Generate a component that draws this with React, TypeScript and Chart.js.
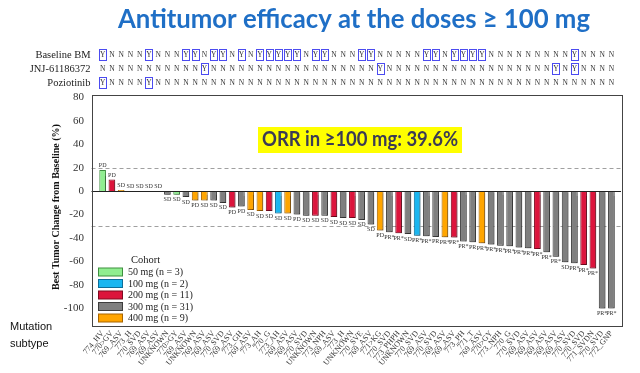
import React, { useEffect, useRef } from 'react';
import { Chart, registerables } from 'chart.js';

Chart.register(...registerables);

const subtypes = ['774_HV','770>GV','769_ASV','773_H','770_SVD','769_ASV','769_ASV','UNKNOWN','770>GY','769_ASV','UNKNOWN','769_ASV','769_ASV','770_SVD','769_ASV','773_GH','769_ASV','773_AH','770_G','773_AH','769_ASV','769_ASV','770_SVD','UNKNOWN','773_NPH','769_ASV','773_H','UNKNOWN','770_SVE','769_ASV','771>KG','770_SVD','773_PHPH','UNKNOWN','770_SVD','769_ASV','770_SVD','769_ASV','769_ASV','773_PH','771_T','769_ASV','770>GY','773_NPH','770_G','770_SVD','769_ASV','769_ASV','769_ASV','769_ASV','769_ASV','770_SVD','770_SVD','771_SVDN','770_SVD','772_GNP'];

const changes = [18, 10, 1, 0, 0, 0, 0, -3, -3, -5, -8, -8, -8, -10, -14, -13, -16, -17, -17, -19, -19, -20, -21, -21, -21, -22, -23, -23, -24.5, -28.5, -33.5, -35, -36, -36.5, -38, -38.5, -39, -39.3, -39.5, -43, -43.6, -44.5, -45.5, -46.5, -47, -48, -48.7, -49.3, -52, -56, -60.7, -61.5, -63, -66, -100, -100];

const doses = [50, 200, 400, 50, 300, 300, 300, 300, 50, 300, 400, 400, 300, 300, 200, 300, 400, 400, 200, 100, 400, 300, 300, 200, 300, 200, 300, 200, 300, 300, 400, 300, 200, 300, 100, 300, 300, 400, 200, 300, 300, 400, 300, 300, 300, 300, 300, 200, 300, 300, 300, 300, 200, 200, 300, 300];

const responses = ['PD','PD','SD','SD','SD','SD','SD','SD','SD','SD','PD','SD','SD','SD','PD','PD','SD','SD','SD','SD','SD','PD','SD','SD','SD','SD','SD','SD','SD','SD','PD','PR*','PR*','SD','PR*','PR*','PR','PR*','PR*','PR*','PR','PR*','PR*','PR*','PR*','PR*','PR*','PR*','PR*','PR*','SD','PR*','PR*','PR*','PR*','PR*'];

const baselineBMYes = [0, 5, 9, 10, 12, 13, 15, 17, 18, 19, 20, 21, 23, 24, 28, 29, 35, 36, 38, 39, 40, 41, 51];
const jnjYes = [11, 30, 49, 51];
const poziotinibYes = [0, 5];

const cohortDoses = [50, 100, 200, 300, 400];
const cohortLabels = ['50 mg (n = 3)', '100 mg (n = 2)', '200 mg (n = 11)', '300 mg (n = 31)', '400 mg (n = 9)'];
const cohortFill: Record<number, string> = { 50: '#90EE90', 100: '#1AB6F0', 200: '#DC143C', 300: '#7F7F7F', 400: '#FFA500' };
const cohortBorder: Record<number, string> = { 50: '#3f8f3f', 100: '#0d6e99', 200: '#7e0a20', 300: '#3d3d3d', 400: '#a86400' };

const yTickValues = [80, 60, 40, 20, 0, -20, -40, -60, -80, -100];
const refLines = [20, -30];
const yMin = -115;
const yMax = 82;

const titleText = 'Antitumor efficacy at the doses \u2265 100 mg';
const orrText = 'ORR in \u2265100 mg: 39.6%';

function fitText(ctx: CanvasRenderingContext2D, text: string, cx: number, cy: number, targetW: number) {
  const w = ctx.measureText(text).width;
  const s = targetW / w;
  ctx.save();
  ctx.translate(cx, cy);
  ctx.scale(s, 1);
  ctx.textAlign = 'center';
  ctx.textBaseline = 'middle';
  ctx.fillText(text, 0, 0);
  ctx.restore();
}

const overlay = {
  id: 'overlay',
  beforeDraw(chart: any) {
    const c = chart.ctx;
    c.save();
    c.fillStyle = '#ffffff';
    c.fillRect(0, 0, chart.width, chart.height);
    c.restore();
  },
  beforeDatasetsDraw(chart: any) {
    const { ctx, chartArea, scales } = chart;
    const L = chartArea.left - 6.5;
    const R = chartArea.right + 5;
    ctx.save();
    ctx.strokeStyle = '#a0a0a0';
    ctx.lineWidth = 1;
    ctx.setLineDash([4, 3]);
    refLines.forEach((v) => {
      const py = Math.round(scales.y.getPixelForValue(v)) + 0.5;
      ctx.beginPath();
      ctx.moveTo(L, py);
      ctx.lineTo(R, py);
      ctx.stroke();
    });
    ctx.restore();
    ctx.save();
    ctx.shadowColor = 'rgba(0,0,0,0.28)';
    ctx.shadowOffsetX = 1.5;
    ctx.shadowOffsetY = 1.5;
    ctx.shadowBlur = 1.5;
  },
  afterDatasetsDraw(chart: any) {
    const { ctx, chartArea, scales } = chart;
    ctx.restore();
    const L = chartArea.left - 6.5;
    const R = chartArea.right + 5;
    ctx.save();
    // zero line
    const zy = Math.round(scales.y.getPixelForValue(0)) + 0.5;
    ctx.strokeStyle = '#222';
    ctx.lineWidth = 1;
    ctx.beginPath();
    ctx.moveTo(L, zy);
    ctx.lineTo(R, zy);
    ctx.stroke();
    // frame
    ctx.strokeStyle = '#444';
    ctx.strokeRect(Math.round(L) + 0.5, Math.round(chartArea.top) + 0.5, Math.round(R - L), Math.round(chartArea.bottom - chartArea.top));
    ctx.restore();
  },
  afterDraw(chart: any) {
    const { ctx, chartArea, scales } = chart;
    const xs = scales.x;
    const ys = scales.y;
    const L = chartArea.left - 6.5;
    ctx.save();

    // response labels
    ctx.font = '6px "Liberation Serif"';
    ctx.fillStyle = '#333';
    ctx.textAlign = 'center';
    changes.forEach((v, i) => {
      const px = xs.getPixelForValue(i);
      const py = ys.getPixelForValue(v);
      if (v >= 0) {
        ctx.textBaseline = 'bottom';
        ctx.fillText(responses[i], px, py - 1.5);
      } else {
        ctx.textBaseline = 'top';
        ctx.fillText(responses[i], px, py + 2);
      }
    });

    // title
    ctx.fillStyle = '#1F6FC6';
    ctx.font = 'bold 27px Lato';
    fitText(ctx, titleText, 354, 19, 472);

    // ORR box
    ctx.fillStyle = '#FFFF00';
    ctx.fillRect(258, 127, 204, 26);
    ctx.fillStyle = '#3b3b55';
    ctx.font = 'bold 20px Lato';
    fitText(ctx, orrText, 360, 140, 196);

    // Y/N grid
    const rows: [string, number[], number][] = [
      ['Baseline BM', baselineBMYes, 55],
      ['JNJ-61186372', jnjYes, 69],
      ['Poziotinib', poziotinibYes, 83],
    ];
    rows.forEach(([label, yes, cy]) => {
      ctx.fillStyle = '#222';
      ctx.font = '10.5px "Liberation Serif"';
      ctx.textAlign = 'right';
      ctx.textBaseline = 'middle';
      ctx.fillText(label, L - 1, cy + 0.5);
      ctx.font = '7.5px "Liberation Serif"';
      ctx.textAlign = 'center';
      for (let i = 0; i < subtypes.length; i++) {
        const px = xs.getPixelForValue(i);
        const isY = yes.includes(i);
        ctx.fillStyle = '#333';
        ctx.fillText(isY ? 'Y' : 'N', px, cy + 0.5);
        if (isY) {
          ctx.strokeStyle = '#4b4bf0';
          ctx.lineWidth = 1;
          ctx.strokeRect(Math.round(px - 3.5) + 0.5, cy - 5.5, 7, 11);
        }
      }
    });

    // y axis title
    ctx.save();
    ctx.translate(56, 207);
    ctx.rotate(-Math.PI / 2);
    ctx.font = 'bold 10px "Liberation Serif"';
    ctx.fillStyle = '#111';
    ctx.textAlign = 'center';
    ctx.textBaseline = 'middle';
    ctx.fillText('Best Tumor Change from Baseline (%)', 0, 0);
    ctx.restore();

    // legend
    ctx.fillStyle = '#222';
    ctx.font = '10.5px "Liberation Serif"';
    ctx.textAlign = 'left';
    ctx.textBaseline = 'middle';
    ctx.fillText('Cohort', 131, 260);
    ctx.font = '10px "Liberation Serif"';
    cohortDoses.forEach((d, k) => {
      const cy = 272 + k * 11.5;
      ctx.fillStyle = cohortFill[d];
      ctx.fillRect(98.5, cy - 4, 24, 8);
      ctx.strokeStyle = cohortBorder[d];
      ctx.lineWidth = 1;
      ctx.strokeRect(98.5, cy - 4, 24, 8);
      ctx.fillStyle = '#222';
      ctx.fillText(cohortLabels[k], 128, cy + 0.5);
    });

    // mutation subtype caption
    ctx.fillStyle = '#111';
    ctx.font = '11px "Liberation Sans"';
    ctx.textAlign = 'left';
    ctx.fillText('Mutation', 10, 327);
    ctx.fillText('subtype', 10, 344);

    ctx.restore();
  },
};

export default function App() {
  const ref = useRef<HTMLCanvasElement>(null);
  useEffect(() => {
    document.body.style.margin = '0';
    const canvas = ref.current!;
    const chart = new Chart(canvas, {
      type: 'bar',
      data: {
        labels: subtypes,
        datasets: [
          {
            data: changes,
            backgroundColor: doses.map((d) => cohortFill[d]),
            borderColor: doses.map((d) => cohortBorder[d]),
            borderWidth: 1,
            barPercentage: 0.72,
            categoryPercentage: 1,
          },
        ],
      },
      options: {
        responsive: false,
        animation: false,
        layout: { padding: { top: 95, right: 24, left: 0, bottom: 0 } },
        plugins: { legend: { display: false }, tooltip: { enabled: false }, title: { display: false } },
        scales: {
          x: {
            grid: { display: false, drawTicks: false },
            border: { display: false },
            ticks: {
              autoSkip: false,
              maxRotation: 50,
              minRotation: 50,
              padding: 3,
              color: '#333',
              font: { family: 'Liberation Serif', size: 8 },
            },
            afterFit: (s: any) => { s.height = 47; },
          },
          y: {
            min: yMin,
            max: yMax,
            grid: { display: false, drawTicks: false },
            border: { display: false },
            ticks: {
              padding: 14,
              color: '#333',
              font: { family: 'Liberation Serif', size: 11 },
            },
            afterBuildTicks: (s: any) => { s.ticks = yTickValues.map((v) => ({ value: v })); },
            afterFit: (s: any) => { s.width = 98; },
          },
        },
      },
      plugins: [overlay],
    } as any);
    return () => chart.destroy();
  }, []);
  return (
    <div style={{ width: 640, height: 373 }}>
      <canvas ref={ref} width={640} height={373} style={{ display: 'block' }} />
    </div>
  );
}
